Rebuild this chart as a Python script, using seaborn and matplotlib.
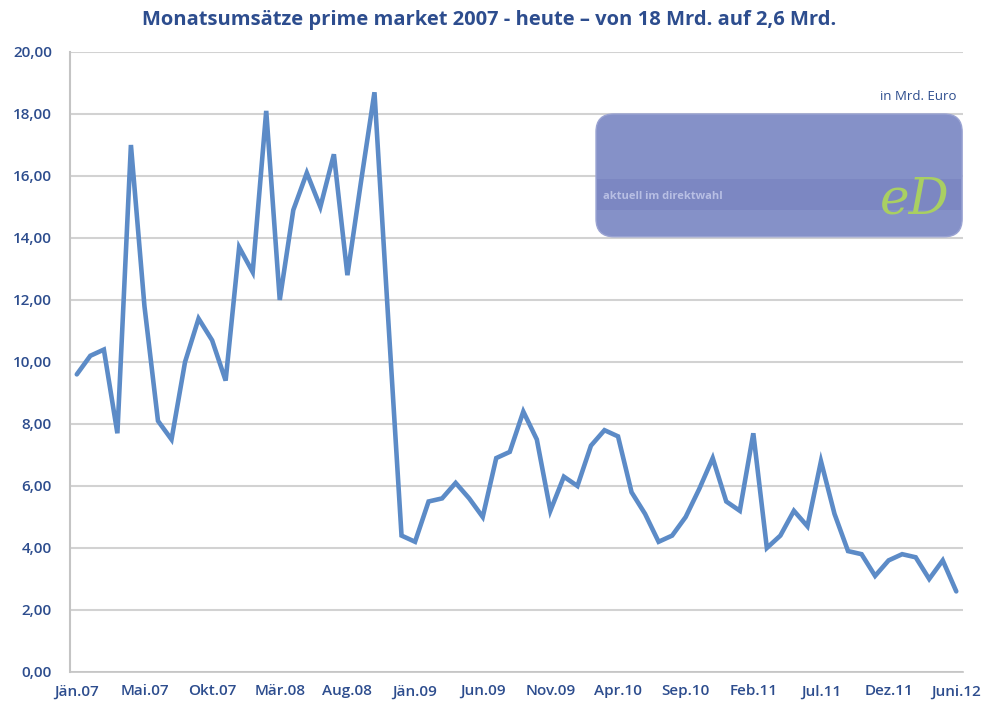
import matplotlib
matplotlib.use("Agg")
import matplotlib.pyplot as plt
import seaborn as sns
import pandas as pd
from matplotlib.patches import FancyBboxPatch, Rectangle

# ---- data ----
umsatz = [9.6, 10.2, 10.4, 7.7, 17.0, 11.8, 8.1, 7.5, 10.0, 11.4,
          10.7, 9.4, 13.7, 12.9, 18.1, 12.0, 14.9, 16.1, 15.0, 16.7,
          12.8, 15.8, 18.7, 11.5, 4.4, 4.2, 5.5, 5.6, 6.1, 5.6,
          5.0, 6.9, 7.1, 8.4, 7.5, 5.2, 6.3, 6.0, 7.3, 7.8,
          7.6, 5.8, 5.1, 4.2, 4.4, 5.0, 5.9, 6.9, 5.5, 5.2,
          7.7, 4.0, 4.4, 5.2, 4.7, 6.8, 5.1, 3.9, 3.8, 3.1,
          3.6, 3.8, 3.7, 3.0, 3.6, 2.6]
monat = list(range(len(umsatz)))
tick_pos = [0, 5, 10, 15, 20, 25, 30, 35, 40, 45, 50, 55, 60, 65]
tick_labels = ["Jän.07", "Mai.07", "Okt.07", "Mär.08", "Aug.08", "Jän.09", "Jun.09",
               "Nov.09", "Apr.10", "Sep.10", "Feb.11", "Jul.11", "Dez.11", "Juni.12"]
y_ticks = [0, 2, 4, 6, 8, 10, 12, 14, 16, 18, 20]
title = "Monatsumsätze prime market 2007 - heute – von 18 Mrd. auf 2,6 Mrd."
unit = "in Mrd. Euro"

df = pd.DataFrame({"monat": monat, "umsatz": umsatz})

sns.set_theme(style="white")
plt.rcParams["font.family"] = ["Open Sans", "DejaVu Sans"]

text_col = "#2d4d8e"
line_col = "#5c8bc7"
grid_col = "#d2d2d2"

fig = plt.figure(figsize=(9.85, 7.09), dpi=100)
ax = fig.add_axes([0.0711, 0.0522, 0.9066, 0.8745])

for yt in y_ticks:
    ax.axhline(yt, color=grid_col, lw=1.5, zorder=0)

sns.lineplot(data=df, x="monat", y="umsatz", ax=ax, color=line_col, lw=3.3,
             zorder=3, solid_joinstyle="miter")

ax.set_xlim(-0.5, 65.5)
ax.set_ylim(0, 20)
ax.set_yticks(y_ticks)
ax.set_yticklabels([f"{v:.2f}".replace(".", ",") for v in y_ticks],
                   color=text_col, fontsize=11, fontweight="semibold")
ax.set_xticks(tick_pos)
ax.set_xticklabels(tick_labels, color=text_col, fontsize=11, fontweight="semibold")
ax.set_xticks([m + 0.5 for m in monat[:-1]] + [-0.5], minor=True)
ax.tick_params(axis="x", which="major", length=0, pad=9)
ax.tick_params(axis="x", which="minor", length=4, color="#b0b0b0", width=1)
ax.tick_params(axis="y", which="major", length=5, color="#c0c0c0", width=1, pad=8)
ax.set_xlabel("")
ax.set_ylabel("")

for s in ["top", "right"]:
    ax.spines[s].set_visible(False)
ax.spines["left"].set_color("#c4c4c4")
ax.spines["left"].set_linewidth(1.5)
ax.spines["bottom"].set_color("#c4c4c4")
ax.spines["bottom"].set_linewidth(1.2)

# watermark box (decoration)
box = FancyBboxPatch((0.589, 0.702), 0.41, 0.198, boxstyle="round,pad=0,rounding_size=0.02",
                     transform=ax.transAxes, facecolor="#8591c8", edgecolor="#9aa3d2",
                     lw=1, zorder=4, mutation_aspect=893 / 620)
ax.add_patch(box)
ax.add_patch(Rectangle((0.590, 0.745), 0.408, 0.05, transform=ax.transAxes,
                       facecolor="#7c87c2", edgecolor="none", zorder=5))
ax.text(0.597, 0.767, "aktuell im direktwahl", transform=ax.transAxes, color="#b8bfe4",
        fontsize=8, fontweight="bold", va="center", ha="left", zorder=6)
ax.text(0.985, 0.762, "eD", transform=ax.transAxes, color="#a9cf62", fontsize=36,
        fontstyle="italic", fontfamily="DejaVu Serif", va="center", ha="right", zorder=6)

ax.text(0.993, 0.928, unit, transform=ax.transAxes, color=text_col, fontsize=9.5,
        ha="right", va="center")

fig.text(0.497, 0.972, title, color=text_col, fontsize=14.5, fontweight="bold",
         ha="center", va="center")

fig.savefig("out.png", dpi=100, facecolor="white")
